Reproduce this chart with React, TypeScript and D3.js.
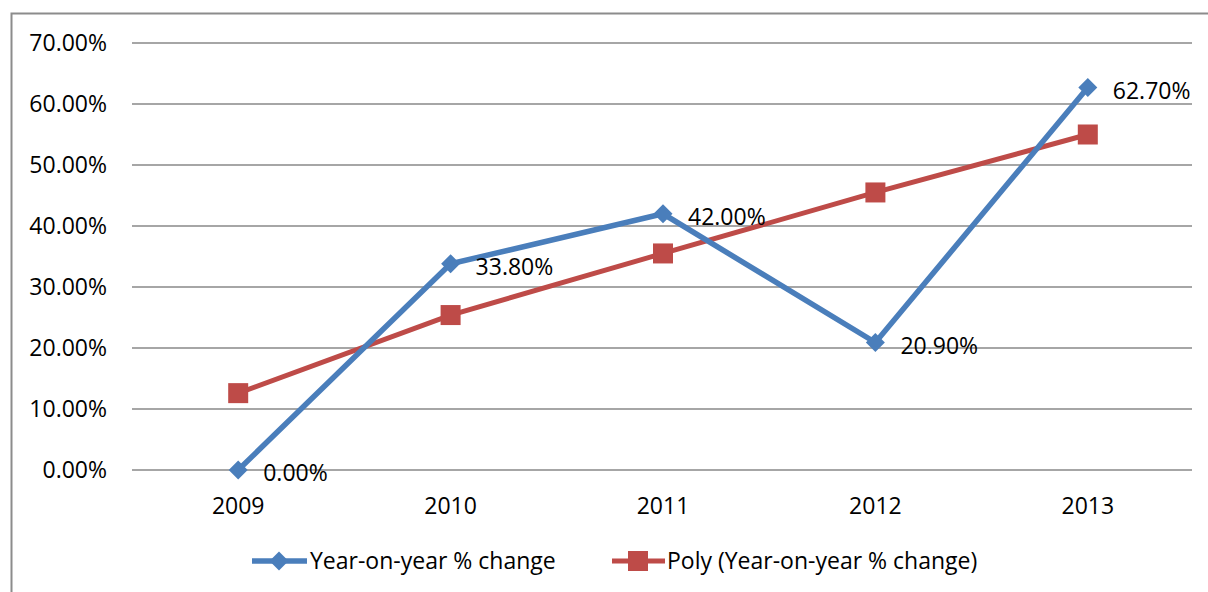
import React, { useEffect, useRef } from 'react';
import * as d3 from 'd3';

// chart data
const years = ['2009', '2010', '2011', '2012', '2013'];
const yoyChange = [0, 33.8, 42.0, 20.9, 62.7];
const polyTrend = [12.6, 25.4, 35.5, 45.5, 55.0];
const yTicks = [0, 10, 20, 30, 40, 50, 60, 70];
const seriesNames = ['Year-on-year % change', 'Poly (Year-on-year % change)'];

const BLUE = '#4A7EBB';
const RED = '#BE4B48';
const FONT = '"Open Sans", "Liberation Sans", sans-serif';
const FS = 23;

const App = () => {
  const svgRef = useRef<SVGSVGElement>(null);
  const width = 1208;
  const height = 592;

  useEffect(() => {
    const svg = d3.select(svgRef.current);
    svg.selectAll('*').remove();

    // outer chart frame (top + left edges visible)
    svg.append('rect').attr('width', width).attr('height', height).attr('fill', '#fff');
    svg.append('path')
      .attr('d', `M11.5,${height} V13.5 H${width}`)
      .attr('fill', 'none')
      .attr('stroke', '#8c8c8c')
      .attr('stroke-width', 2);

    const x = d3.scalePoint<string>()
      .domain(years)
      .range([132, 1194])
      .padding(0.5);

    const y = d3.scaleLinear().domain([0, 70]).range([470, 43]);

    // gridlines
    svg.append('g')
      .selectAll('line')
      .data(yTicks)
      .join('line')
      .attr('x1', 132)
      .attr('x2', 1192)
      .attr('y1', d => y(d))
      .attr('y2', d => y(d))
      .attr('stroke', '#888')
      .attr('stroke-width', 1.5);

    // y tick labels
    svg.append('g')
      .selectAll('text')
      .data(yTicks)
      .join('text')
      .attr('x', 107)
      .attr('y', d => y(d))
      .attr('dy', '0.35em')
      .attr('text-anchor', 'end')
      .attr('font-family', FONT)
      .attr('font-size', FS)
      .attr('fill', '#000')
      .text(d => d.toFixed(2) + '%');

    // x tick labels
    svg.append('g')
      .selectAll('text')
      .data(years)
      .join('text')
      .attr('x', d => x(d)!)
      .attr('y', 506)
      .attr('dy', '0.35em')
      .attr('text-anchor', 'middle')
      .attr('font-family', FONT)
      .attr('font-size', FS)
      .attr('fill', '#000')
      .text(d => d);

    const line = d3.line<number>()
      .x((_, i) => x(years[i])!)
      .y(d => y(d));

    // poly trend (red, square markers)
    svg.append('path')
      .datum(polyTrend)
      .attr('d', line)
      .attr('fill', 'none')
      .attr('stroke', RED)
      .attr('stroke-width', 5);

    svg.append('g')
      .selectAll('rect')
      .data(polyTrend)
      .join('rect')
      .attr('x', (_, i) => x(years[i])! - 10)
      .attr('y', d => y(d) - 10)
      .attr('width', 20)
      .attr('height', 20)
      .attr('fill', RED);

    // actual series (blue, diamond markers)
    svg.append('path')
      .datum(yoyChange)
      .attr('d', line)
      .attr('fill', 'none')
      .attr('stroke', BLUE)
      .attr('stroke-width', 5.5);

    const diamond = d3.symbol().type(d3.symbolDiamond2).size(230);
    svg.append('g')
      .selectAll('path')
      .data(yoyChange)
      .join('path')
      .attr('transform', (d, i) => `translate(${x(years[i])},${y(d)})`)
      .attr('d', diamond)
      .attr('fill', BLUE);

    // data labels
    svg.append('g')
      .selectAll('text')
      .data(yoyChange)
      .join('text')
      .attr('x', (_, i) => x(years[i])! + 25)
      .attr('y', d => y(d) + 3)
      .attr('dy', '0.35em')
      .attr('font-family', FONT)
      .attr('font-size', FS)
      .attr('fill', '#000')
      .text(d => d.toFixed(2) + '%');

    // legend
    const legend = svg.append('g').attr('transform', 'translate(0,561)');
    legend.append('line')
      .attr('x1', 252).attr('x2', 307)
      .attr('stroke', BLUE).attr('stroke-width', 5.5);
    legend.append('path')
      .attr('transform', 'translate(279,0)')
      .attr('d', diamond)
      .attr('fill', BLUE);
    legend.append('text')
      .attr('x', 310).attr('dy', '0.35em')
      .attr('font-family', FONT).attr('font-size', FS)
      .text(seriesNames[0]);

    legend.append('line')
      .attr('x1', 612).attr('x2', 665)
      .attr('stroke', RED).attr('stroke-width', 5);
    legend.append('rect')
      .attr('x', 628).attr('y', -10)
      .attr('width', 20).attr('height', 20)
      .attr('fill', RED);
    legend.append('text')
      .attr('x', 667).attr('dy', '0.35em')
      .attr('font-family', FONT).attr('font-size', FS)
      .text(seriesNames[1]);
  }, []);

  return (
    <svg
      ref={svgRef}
      width={width}
      height={height}
      style={{ position: 'absolute', left: 0, top: 0 }}
    />
  );
};

export default App;
